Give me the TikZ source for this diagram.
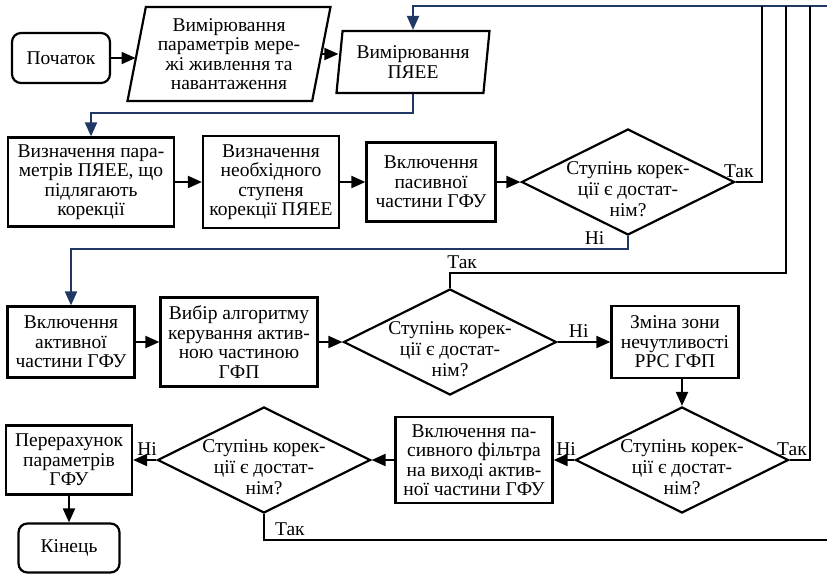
\documentclass[tikz,border=0pt]{standalone}
\usepackage{fontspec}
\setmainfont{Liberation Serif}
\newfontfamily\flowfont{Liberation Serif}
\usetikzlibrary{shapes.geometric,arrows.meta}

\definecolor{loopblue}{RGB}{31,56,100}

\tikzstyle{block} = [
        draw,
        fill=white,
        rectangle,
        line width=2.2pt,
        align=center,
        inner sep=2pt
    ]
\tikzstyle{term} = [block, rounded corners=9pt]
\tikzstyle{io} = [
        draw,
        fill=white,
        trapezium,
        trapezium stretches body=true,
        line width=2.2pt,
        align=center,
        inner sep=1pt
    ]
\tikzstyle{decision} = [
        draw,
        fill=white,
        diamond,
        aspect=2,
        line width=2.2pt,
        align=center,
        inner sep=-18pt,
        minimum width=213pt,
        minimum height=106pt,
        font=\flowfont\fontsize{19.5}{21}\selectfont
    ]
\tikzstyle{answer} = [above, black]
\newcommand{\qpad}{\rule{0pt}{28pt}}

\begin{document}
\begin{tikzpicture}[x=1pt, y=-1pt, node distance=180pt, line width=2pt,
        >={Triangle[length=14pt,width=12pt]},
        font=\flowfont\fontsize{19.5}{19.5}\selectfont]
        \useasboundingbox (0,0) rectangle (827,573);
        % top row
        \node(strt) [term, minimum width=98pt, minimum height=50pt] at (61,58) {Початок};
        \node(msr1) [io, right of=strt, xshift=-12pt, yshift=4pt,
            trapezium left angle=76, trapezium right angle=104,
            minimum width=203pt, minimum height=94pt]
            {Вимірювання\\параметрів мере-\\жі живлення та\\навантаження};
        \node(msr2) [io, right of=msr1, xshift=4pt, yshift=-8pt,
            trapezium left angle=80, trapezium right angle=100,
            minimum width=153pt, minimum height=62pt] {Вимірювання\\ПЯЕЕ};
        % second row
        \node(dfn1) [block, minimum width=166pt, minimum height=89pt] at (91,182)
            {Визначення пара-\\метрів ПЯЕЕ, що\\підлягають\\корекції};
        \node(dfn2) [block, right of=dfn1, minimum width=136pt, minimum height=92pt]
            {Визначення\\необхідного\\ступеня\\корекції ПЯЕЕ};
        \node(psv1) [block, right of=dfn2, xshift=-20pt, minimum width=129pt, minimum height=79pt]
            {Включення\\пасивної\\частини ГФУ};
        \node(chk1) [decision, right of=psv1, xshift=17pt] {\qpad Ступінь корек-\\ції є достат-\\нім?};
        % third row
        \node(act1) [block, minimum width=127pt, minimum height=71pt] at (71,342)
            {Включення\\активної\\частини ГФУ};
        \node(alg1) [block, right of=act1, xshift=-12pt, minimum width=157pt, minimum height=89pt]
            {Вибір алгоритму\\керування актив-\\ною частиною\\ГФП};
        \node(chk2) [decision, right of=alg1, xshift=31pt] {\qpad Ступінь корек-\\ції є достат-\\нім?};
        \node(dzn1) [block, right of=chk2, xshift=45pt, minimum width=127pt, minimum height=72pt]
            {Зміна зони\\нечутливості\\РРС ГФП};
        % fourth row, right to left
        \node(chk3) [decision] at (682,460) {\qpad Ступінь корек-\\ції є достат-\\нім?};
        \node(flt1) [block, left of=chk3, xshift=-28pt, minimum width=157pt, minimum height=86pt]
            {Включення па-\\сивного фільтра\\на виході актив-\\ної частини ГФУ};
        \node(chk4) [decision, left of=flt1, xshift=-30pt] {\qpad Ступінь корек-\\ції є достат-\\нім?};
        \node(rcl1) [block, left of=chk4, xshift=-15pt, minimum width=126pt, minimum height=69pt]
            {Перерахунок\\параметрів\\ГФУ};
        \node(kinc) [term, node distance=88pt, below of=rcl1, minimum width=101pt, minimum height=49pt]
            {Кінець};
        \coordinate (rtop) at (827,6);
        \coordinate (tak1) at (762,6);
        \coordinate (tak2) at (786,6);
        \coordinate (tak3) at (810,6);
        \coordinate (rbot) at (827,540);
        \draw[->] (strt) -- (strt -| msr1.west);
        \draw[->] (msr1.east) -- (msr1.east -| msr2.west);
        \draw[->, loopblue] (rtop) -| (msr2.north);
        \draw[->, loopblue] (msr2.south) -- ++(0,19) -| (dfn1.north);
        \draw[->] (dfn1) -- (dfn2);
        \draw[->] (dfn2) -- (psv1);
        \draw[->] (psv1) -- (chk1);
        \draw (chk1.east) -| node[answer, pos=0.06]{Так} (tak1);
        \draw[->, loopblue] (chk1.south) -- ++(0,13) -| node[answer, pos=0.03]{Ні} (act1.north);
        \draw[->] (act1) -- (alg1);
        \draw[->] (alg1) -- (chk2);
        \draw (chk2.north) -- ++(0,-15) -| node[answer, pos=0.018]{Так} (tak2);
        \draw[->] (chk2) -- node[answer, pos=0.4]{Ні} (dzn1);
        \draw[->] (dzn1.south -| chk3.north) -- (chk3.north);
        \draw (chk3.east) -| node[answer, pos=0.058]{Так} (tak3);
        \draw[->] (chk3) -- node[answer, pos=0.4]{Ні} (flt1);
        \draw[->] (flt1) -- (chk4);
        \draw[->] (chk4) -- node[answer, pos=0.4]{Ні} (rcl1);
        \draw[->] (rcl1) -- (kinc);
        % \draw (chk4.south) -- (chk4.south |- rbot) -- (rbot);
        \draw (chk4.south) |- node[answer, pos=0.523]{Так} (rbot);
    \end{tikzpicture}
\end{document}
